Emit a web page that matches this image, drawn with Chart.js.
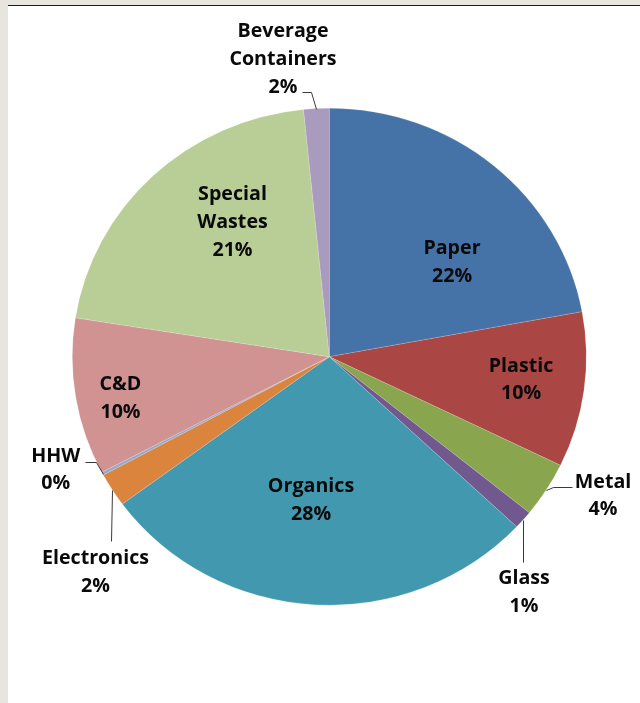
<!DOCTYPE html>
<html>
<head>
<meta charset="utf-8">
<script src="https://cdn.jsdelivr.net/npm/chart.js@4/dist/chart.umd.min.js"></script>
<style>
  html, body { margin: 0; padding: 0; }
  body { width: 640px; height: 703px; background: #e8e4de; position: relative; overflow: hidden; }
  #panel { position: absolute; left: 8px; top: 5px; right: 0; bottom: 0; background: #ffffff; border-top: 1px solid #1c1c1c; }
  #wrap { position: absolute; left: 0; top: 0; width: 640px; height: 703px; }
</style>
</head>
<body>
<div id="panel"></div>
<div id="wrap"><canvas id="c" width="640" height="703"></canvas></div>
<script>
// Waste composition by material stream (share of total, %)
const categories = ['Paper', 'Plastic', 'Metal', 'Glass', 'Organics', 'Electronics', 'HHW', 'C&D', 'Special Wastes', 'Beverage Containers'];
const shares = [22.1, 10.1, 3.6, 1.2, 27.9, 2.2, 0.2, 10.2, 20.9, 1.6];
const sliceColors = ['#4572a7', '#aa4643', '#89a54e', '#71588f', '#4198af', '#db843d', '#93a9cf', '#d19392', '#b9cd96', '#a99bbd'];

// Pie is drawn slightly wider than tall
const SX = 257 / 248.5;
const RADIUS = 248.5;

// Label placement in pie-radius units relative to the centre (x scaled by SX),
// plus optional leader-line waypoints in the same units.
const labelLayout = [
  { at: [0.4774, -0.3831] },
  { at: [0.7459, 0.0885] },
  { at: [1.0650, 0.5557], leader: [[0.8716, 0.5259], [0.9432, 0.5259]] },
  { at: [0.7576, 0.9437], leader: [[0.7549, 0.8249]] },
  { at: [-0.0712, 0.5726] },
  { at: [-0.9097, 0.8632], leader: [[-0.8506, 0.7416]] },
  { at: [-1.0646, 0.4511], leader: [[-0.9089, 0.4225], [-0.9506, 0.4225]] },
  { at: [-0.8125, 0.1642] },
  { at: [-0.3767, -0.5449] },
  { at: [-0.1802, -1.2008], leader: [[-0.0712, -1.0640], [-0.1074, -1.0640]] }
];

const FONT = 'bold 19px "Open Sans", "Noto Sans", sans-serif';
const LINE_H = 27.8;
const CAP_HALF = 6.8;

const total = shares.reduce((a, b) => a + b, 0);

const ellipsePlugin = {
  id: 'ellipse',
  beforeDatasetsDraw(chart) {
    const arc = chart.getDatasetMeta(0).data[0];
    const ctx = chart.ctx;
    ctx.save();
    ctx.translate(arc.x, arc.y);
    ctx.scale(SX, 1);
    ctx.translate(-arc.x, -arc.y);
  },
  afterDatasetsDraw(chart) {
    chart.ctx.restore();
  }
};

const sliceLabels = {
  id: 'sliceLabels',
  afterDraw(chart) {
    const ctx = chart.ctx;
    const arcs = chart.getDatasetMeta(0).data;
    ctx.save();
    arcs.forEach((arc, i) => {
      const cx = arc.x, cy = arc.y, R = arc.outerRadius;
      const toPx = (u) => [cx + u[0] * R * SX, cy + u[1] * R];
      const lay = labelLayout[i];

      if (lay.leader) {
        const mid = (arc.startAngle + arc.endAngle) / 2;
        const pts = [[cx + Math.cos(mid) * R * SX, cy + Math.sin(mid) * R]].concat(lay.leader.map(toPx));
        ctx.beginPath();
        pts.forEach((p, k) => {
          const x = Math.round(p[0]) + 0.5, y = Math.round(p[1]) + 0.5;
          if (k === 0) ctx.moveTo(x, y); else ctx.lineTo(x, y);
        });
        ctx.strokeStyle = '#3a3a3a';
        ctx.lineWidth = 1;
        ctx.stroke();
      }

      const lines = categories[i].split(' ').concat([Math.round(shares[i] / total * 100) + '%']);
      const [lx, ly] = toPx(lay.at);
      const top = ly - (lines.length - 1) * LINE_H / 2;
      ctx.font = FONT;
      ctx.fillStyle = '#0a0a0a';
      ctx.textAlign = 'center';
      ctx.textBaseline = 'alphabetic';
      lines.forEach((t, k) => {
        ctx.save();
        ctx.translate(lx, top + k * LINE_H + CAP_HALF);
        ctx.scale(SX, 1);
        ctx.fillText(t, 0, 0);
        ctx.restore();
      });
    });
    ctx.restore();
  }
};

new Chart(document.getElementById('c'), {
  type: 'pie',
  data: {
    labels: categories,
    datasets: [{
      data: shares,
      backgroundColor: sliceColors,
      borderColor: 'rgba(255,255,255,0.3)',
      borderWidth: 0.5
    }]
  },
  options: {
    responsive: false,
    animation: false,
    devicePixelRatio: 1,
    radius: RADIUS,
    layout: { padding: { left: 80, right: 61.4, top: 108, bottom: 97.6 } },
    plugins: {
      legend: { display: false },
      tooltip: { enabled: false }
    }
  },
  plugins: [ellipsePlugin, sliceLabels]
});
</script>
</body>
</html>
